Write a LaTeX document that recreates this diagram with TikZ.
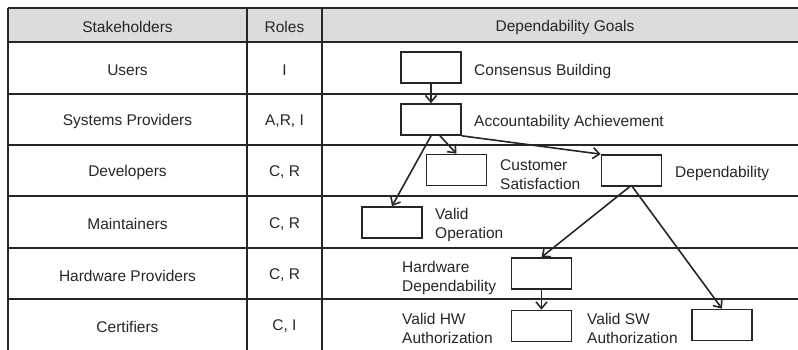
\documentclass[tikz,border=0pt]{standalone}
\usepackage{fontspec}
\setmainfont{Liberation Sans}
\usetikzlibrary{arrows.meta}
\definecolor{ink}{HTML}{262626}
\definecolor{hdr}{HTML}{DCDCDC}
\begin{document}
\begin{tikzpicture}[x=1pt,y=-1pt,
  grid/.style={draw=ink,line width=1.6pt},
  goal/.style={draw=ink,line width=1.7pt,minimum width=60pt,minimum height=31pt,inner sep=0pt},
  lbl/.style={text=ink,font=\fontsize{15.5}{18.5}\selectfont,inner sep=0pt,yshift=-2pt},
  glbl/.style={lbl,anchor=west,align=left},
  arr/.style={draw=ink,line width=1.6pt,-{Straight Barb[length=6.5pt,width=11pt,line width=1.6pt]}}]
\useasboundingbox (0,0) rectangle (798,349);
\begin{scope}
\clip (0,0) rectangle (798,349);
\fill[hdr] (8,8) rectangle (810,42);
\foreach \y in {8,42,94,145,196,248,299} \draw[grid] (8,\y) -- (810,\y);
\foreach \x in {8,247,322} \draw[grid] (\x,8) -- (\x,360);
\end{scope}
% header
\node[lbl] (h1) at (127.5,25) {Stakeholders};
\node[lbl] (h2) at (284.5,25) {Roles};
\node[lbl] (h3) at (565,25) {Dependability Goals};
% stakeholders
\node[lbl] (s1) at (127.5,68) {Users};
\node[lbl] (s2) at (127.5,119.5) {Systems Providers};
\node[lbl] (s3) at (127.5,170.5) {Developers};
\node[lbl] (s4) at (127.5,222) {Maintainers};
\node[lbl] (s5) at (127.5,273.5) {Hardware Providers};
\node[lbl] (s6) at (127.5,324.5) {Certifiers};
% roles
\node[lbl] (r1) at (284.5,68) {I};
\node[lbl] (r2) at (284.5,119.5) {A,R, I};
\node[lbl] (r3) at (284.5,170.5) {C, R};
\node[lbl] (r4) at (284.5,222) {C, R};
\node[lbl] (r5) at (284.5,273.5) {C, R};
\node[lbl] (r6) at (284.5,324.5) {C, I};
% goal boxes
\node[goal] (cb) at (431,67.5) {};
\node[goal] (aa) at (431,119.5) {};
\node[goal] (cs) at (456.5,170) {};
\node[goal] (dp) at (631.5,170.5) {};
\node[goal] (vo) at (392,222.5) {};
\node[goal] (hd) at (541.5,273.5) {};
\node[goal] (vhw) at (541.5,326) {};
\node[goal] (vsw) at (722,325) {};
% goal labels
\node[glbl] (tcb) at (474,69) {Consensus Building};
\node[glbl] (taa) at (474,120) {Accountability Achievement};
\node[glbl] (tcs) at (500,172.5) {Customer\\Satisfaction};
\node[glbl] (tdp) at (675,171) {Dependability};
\node[glbl] (tvo) at (435,223) {Valid\\Operation};
\node[glbl] (thd) at (402,276) {Hardware\\Dependability};
\node[glbl] (tvhw) at (402,326.5) {Valid HW\\Authorization};
\node[glbl] (tvsw) at (587,326.5) {Valid SW\\Authorization};
% arrows
\draw[arr] (cb.south) -- (aa.north);
\draw[arr] ([xshift=9pt]aa.south) -- (cs.north);
\draw[arr] (aa.south east) -- (dp.north west);
\draw[arr] (aa.south) -- (vo.north);
\draw[arr] ([xshift=-2pt]dp.south) -- (hd.north);
\draw[arr] ([xshift=1pt]dp.south) -- (vsw.north);
\draw[arr] (hd.south) -- (vhw.north);
\end{tikzpicture}
\end{document}
